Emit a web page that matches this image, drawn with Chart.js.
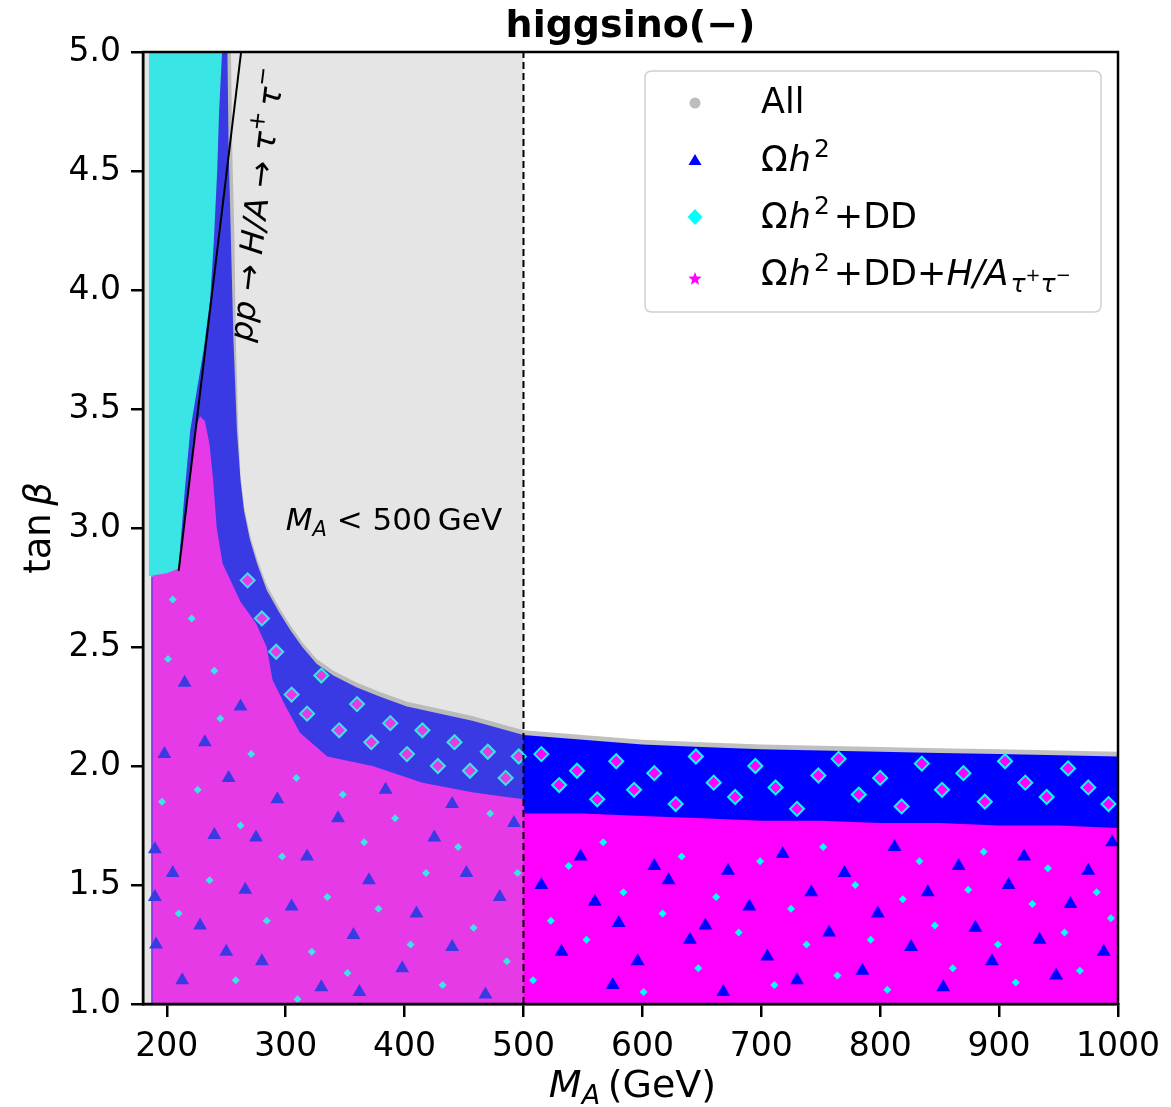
<!DOCTYPE html>
<html><head><meta charset="utf-8">
<script src="https://cdn.jsdelivr.net/npm/chart.js@4/dist/chart.umd.min.js"></script>
<style>html,body{margin:0;padding:0;background:#fff}#wrap{width:1171px;height:1107px;position:relative}</style>
</head><body><div id="wrap"><canvas id="c" width="1171" height="1107"></canvas></div>
<script>
// ---- data ----
const xRange = [180, 1000];
const yRange = [1.0, 5.0];
const xTickValues = [200, 300, 400, 500, 600, 700, 800, 900, 1000];
const yTickValues = [1.0, 1.5, 2.0, 2.5, 3.0, 3.5, 4.0, 4.5, 5.0];

// outer envelope of all scan points ("All")
const allEnvelope = [[187,1.0],[1000,1.0],[1000,2.06],[950,2.065],[900,2.07],[850,2.075],[800,2.08],[750,2.085],[700,2.09],[650,2.10],[600,2.11],[550,2.13],[500,2.15],[457,2.21],[430,2.24],[402,2.27],[380,2.31],[360,2.35],[340,2.40],[326,2.45],[314,2.52],[304,2.59],[294,2.67],[284,2.76],[276,2.87],[270,2.97],[265,3.09],[262,3.22],[260,3.43],[258,3.8],[257,4.2],[255,4.6],[254,5.0],[187,5.0]];
// Omega h^2 region
const omegaRegion = [[187,1.0],[1000,1.0],[1000,2.04],[950,2.045],[900,2.05],[850,2.055],[800,2.06],[750,2.065],[700,2.07],[650,2.08],[600,2.09],[550,2.11],[500,2.13],[457,2.19],[430,2.22],[402,2.25],[380,2.29],[360,2.33],[340,2.38],[326,2.43],[314,2.50],[304,2.57],[294,2.65],[284,2.74],[276,2.85],[270,2.95],[265,3.07],[262,3.20],[259,3.41],[256,3.8],[254,4.2],[252,4.6],[251,5.0],[187,5.0]];
// Omega h^2 + DD region
const ddRegion = [[185,5.0],[246.5,5.0],[244,4.75],[242.4,4.5],[239.5,4.2],[236.5,3.96],[231,3.75],[226,3.6],[219.7,3.41],[215,3.15],[211,2.9],[209.6,2.82],[200,2.80],[190,2.79],[185,2.80]];
// Omega h^2 + DD + H/A -> tau tau region
const tauRegion = [[188,1.0],[1000,1.0],[1000,1.74],[950,1.75],[900,1.75],[850,1.76],[800,1.76],[750,1.77],[700,1.77],[650,1.78],[600,1.79],[550,1.80],[501,1.80],[500,1.86],[470,1.88],[457,1.89],[415,1.93],[373,2.0],[335,2.04],[312,2.14],[300,2.25],[289,2.36],[284,2.50],[275,2.60],[262,2.69],[247,2.85],[242,3.0],[239,3.2],[236,3.35],[232,3.45],[228,3.47],[224,3.42],[219,3.2],[214,3.0],[210,2.83],[200,2.81],[188,2.80]];

// visible Omega h^2 points inside the tau region
const omegaSpots = [[515,1.50],[532,1.22],[548,1.62],[560,1.43],[575,1.08],[580,1.34],[596,1.18],[610,1.58],[622,1.52],[640,1.27],[653,1.33],[668,1.05],[672,1.56],[690,1.41],[705,1.20],[718,1.63],[730,1.10],[742,1.47],[757,1.30],[770,1.55],[785,1.14],[798,1.38],[812,1.66],[826,1.24],[840,1.47],[853,1.07],[866,1.58],[880,1.32],[894,1.18],[908,1.50],[921,1.62],[934,1.27],[948,1.12],[960,1.42],[975,1.56],[988,1.22],[995,1.68],
  [190,1.65],[190,1.45],[191,1.25],[205,1.55],[213,1.10],[228,1.33],[240,1.71],[252,1.95],[266,1.48],[280,1.18],[293,1.86],[305,1.41],[318,1.62],[330,1.07],[344,1.78],[357,1.29],[370,1.52],[384,1.90],[398,1.15],[410,1.38],[425,1.70],[440,1.24],[452,1.55],[468,1.04],[480,1.45],[492,1.76],[215,2.35],[232,2.10],[262,2.25],[198,2.05],[250,1.22],[275,1.70],[362,1.05],[440,1.84]];
// visible Omega h^2 + DD points inside the tau region
const ddSpots = [[508,1.10],[523,1.35],[538,1.58],[553,1.27],[567,1.68],[584,1.47],[601,1.05],[617,1.38],[633,1.62],[647,1.15],[662,1.45],[681,1.30],[699,1.60],[711,1.08],[725,1.40],[738,1.25],[752,1.66],[764,1.12],[779,1.50],[792,1.27],[806,1.06],[819,1.44],[833,1.60],[846,1.33],[861,1.15],[874,1.48],[887,1.64],[899,1.25],[914,1.09],[928,1.42],[941,1.57],[955,1.30],[968,1.14],[982,1.47],[994,1.36],
  [196,1.85],[201,2.45],[210,1.38],[221,2.62],[226,1.90],[236,1.52],[245,2.20],[258,1.10],[262,1.75],[271,2.05],[284,1.35],[297,1.62],[309,1.95],[322,1.22],[335,1.45],[348,1.88],[352,1.13],[366,1.68],[378,1.40],[392,1.78],[405,1.25],[418,1.55],[432,1.08],[445,1.66],[458,1.32],[472,1.80],[486,1.18],[495,1.55],[205,2.70],[240,2.40],[310,1.02]];
// visible tau-allowed points inside the Omega h^2 band
const tauSpots = [[515,2.05],[530,1.92],[545,1.98],[562,1.86],[578,2.02],[593,1.90],[610,1.97],[628,1.84],[645,2.04],[660,1.93],[678,1.87],[695,2.00],[712,1.91],[730,1.82],[748,1.96],[765,2.03],[782,1.88],[800,1.95],[818,1.83],[835,2.01],[852,1.90],[870,1.97],[888,1.85],[905,2.02],[922,1.93],[940,1.87],[958,1.99],[975,1.91],[992,1.84],
  [305,2.30],[318,2.22],[330,2.38],[345,2.15],[360,2.26],[372,2.10],[388,2.18],[402,2.05],[415,2.15],[428,2.00],[442,2.10],[455,1.98],[470,2.06],[485,1.95],[496,2.04],[280,2.62],[292,2.48],[268,2.78]];

const tauLimitLine = [[210,2.82],[262.5,5.0]];
const massCutLine = [[500,1.0],[500,5.0]];
const shadedSpan = [180, 500];
const cutLabelPos = [300, 2.99];
const limitLabelPos = [271, 3.78];

const toXY = a => a.map(p => ({x: p[0], y: p[1]}));
const FONT = '"DejaVu Sans", sans-serif';

function poly(label, data, color, order) {
  return {label, data: toXY(data), showLine: true, fill: 'shape', backgroundColor: color,
          borderWidth: 0, borderColor: color, pointRadius: 0, tension: 0, order};
}

function drawRuns(ctx, runs, x, y, align) {
  let w = 0;
  runs.forEach(r => { ctx.font = r.f; w += ctx.measureText(r.t).width + (r.g || 0); });
  let cx = align === 'center' ? x - w / 2 : x;
  ctx.textAlign = 'left'; ctx.textBaseline = 'alphabetic';
  runs.forEach(r => { ctx.font = r.f; ctx.fillText(r.t, cx, y + (r.dy || 0)); cx += ctx.measureText(r.t).width + (r.g || 0); });
}

const decor = {
  id: 'decor',
  beforeDatasetDraw(chart, args) {
    if (chart.data.datasets[args.index].label !== 'limit') return;
    const {ctx, chartArea: ca, scales: {x}} = chart;
    const x0 = Math.max(x.getPixelForValue(shadedSpan[0]), ca.left), x1 = x.getPixelForValue(shadedSpan[1]);
    ctx.save();
    ctx.fillStyle = 'rgba(176,176,176,0.33)';
    ctx.fillRect(x0, ca.top, x1 - x0, ca.bottom - ca.top);
    ctx.restore();
  },
  afterDatasetsDraw(chart) {
    const {ctx, chartArea: ca, scales: {x, y}} = chart;
    ctx.save();
    ctx.fillStyle = '#000';
    // "M_A < 500 GeV"
    const px = x.getPixelForValue(cutLabelPos[0]), py = y.getPixelForValue(cutLabelPos[1]);
    drawRuns(ctx, [
      {t: 'M', f: 'italic 31px ' + FONT},
      {t: 'A', f: 'italic 21px ' + FONT, dy: 6},
      {t: ' < 500\u2009GeV', f: '31px ' + FONT}
    ], px, py, 'left');
    // rotated limit label
    const lx = x.getPixelForValue(limitLabelPos[0]), ly = y.getPixelForValue(limitLabelPos[1]);
    const p0 = {x: x.getPixelForValue(tauLimitLine[0][0]), y: y.getPixelForValue(tauLimitLine[0][1])};
    const p1 = {x: x.getPixelForValue(tauLimitLine[1][0]), y: y.getPixelForValue(tauLimitLine[1][1])};
    const ang = Math.atan2(p1.y - p0.y, p1.x - p0.x);
    ctx.save();
    ctx.translate(lx, ly); ctx.rotate(ang);
    drawRuns(ctx, [
      {t: 'pp', f: 'italic 32px ' + FONT},
      {t: ' \u2192 ', f: '32px ' + FONT},
      {t: 'H/A', f: 'italic 32px ' + FONT},
      {t: ' \u2192 ', f: '32px ' + FONT},
      {t: '\u03c4', f: 'italic 32px ' + FONT},
      {t: '+', f: '23px ' + FONT, dy: -13},
      {t: '\u2009\u03c4', f: 'italic 32px ' + FONT},
      {t: '\u2212', f: '23px ' + FONT, dy: -13}
    ], 0, 0, 'left');
    ctx.restore();

    // frame
    ctx.lineWidth = 2.5; ctx.strokeStyle = '#000';
    ctx.strokeRect(ca.left, ca.top, ca.right - ca.left, ca.bottom - ca.top);

    // axis titles
    drawRuns(ctx, [
      {t: 'M', f: 'italic 38px ' + FONT},
      {t: 'A', f: 'italic 27px ' + FONT, dy: 7},
      {t: '\u2009(GeV)', f: '38px ' + FONT}
    ], (ca.left + ca.right) / 2 + 2, 1097, 'center');
    ctx.save();
    ctx.translate(50, (ca.top + ca.bottom) / 2);
    ctx.rotate(-Math.PI / 2);
    drawRuns(ctx, [
      {t: 'tan\u2009', f: '37px ' + FONT},
      {t: '\u03b2', f: 'italic 37px ' + FONT}
    ], 0, 0, 'center');
    ctx.restore();

    // legend
    const L = ca.right - 17 - 456, T = ca.top + 19, W = 456, H = 241, R = 7;
    ctx.beginPath();
    ctx.moveTo(L + R, T); ctx.lineTo(L + W - R, T); ctx.quadraticCurveTo(L + W, T, L + W, T + R);
    ctx.lineTo(L + W, T + H - R); ctx.quadraticCurveTo(L + W, T + H, L + W - R, T + H);
    ctx.lineTo(L + R, T + H); ctx.quadraticCurveTo(L, T + H, L, T + H - R);
    ctx.lineTo(L, T + R); ctx.quadraticCurveTo(L, T, L + R, T); ctx.closePath();
    ctx.fillStyle = 'rgba(255,255,255,0.85)'; ctx.fill();
    ctx.strokeStyle = '#d0d0d0'; ctx.lineWidth = 1.5; ctx.stroke();
    const mx = L + 50, tx = L + 116;
    // markers
    ctx.fillStyle = '#bdbdbd'; ctx.beginPath(); ctx.arc(mx, T + 32, 5.5, 0, Math.PI * 2); ctx.fill();
    ctx.fillStyle = '#0000ff'; ctx.beginPath(); ctx.moveTo(mx, T + 83); ctx.lineTo(mx + 6.5, T + 94); ctx.lineTo(mx - 6.5, T + 94); ctx.closePath(); ctx.fill();
    ctx.fillStyle = '#00ffff'; ctx.beginPath(); ctx.moveTo(mx, T + 138); ctx.lineTo(mx + 7.5, T + 146); ctx.lineTo(mx, T + 154); ctx.lineTo(mx - 7.5, T + 146); ctx.closePath(); ctx.fill();
    ctx.fillStyle = '#ff00ff'; ctx.beginPath();
    for (let i = 0; i < 10; i++) {
      const r = i % 2 === 0 ? 7 : 3, a = -Math.PI / 2 + i * Math.PI / 5;
      const sx = mx + r * Math.cos(a), sy = T + 208 + r * Math.sin(a);
      i === 0 ? ctx.moveTo(sx, sy) : ctx.lineTo(sx, sy);
    }
    ctx.closePath(); ctx.fill();
    // texts
    ctx.fillStyle = '#000';
    const F = '35px ' + FONT, FI = 'italic 35px ' + FONT, FS = '25px ' + FONT, FSI = 'italic 25px ' + FONT, FSS = '18px ' + FONT;
    const omegaH2 = () => [{t: '\u03a9', f: F, g: 1}, {t: 'h', f: FI, g: 3}, {t: '2', f: FS, dy: -14, g: 4}];
    drawRuns(ctx, [{t: 'All', f: F}], tx, T + 42, 'left');
    drawRuns(ctx, omegaH2(), tx, T + 100, 'left');
    drawRuns(ctx, omegaH2().concat([{t: '+DD', f: F}]), tx, T + 157, 'left');
    drawRuns(ctx, omegaH2().concat([{t: '+DD+', f: F}, {t: 'H/A', f: FI, g: 2},
                   {t: '\u03c4', f: FSI, dy: 7}, {t: '+', f: FSS, dy: -4}, {t: '\u03c4', f: FSI, dy: 7}, {t: '\u2212', f: FSS, dy: -4}]), tx, T + 214, 'left');
    ctx.restore();
  }
};

new Chart(document.getElementById('c'), {
  type: 'scatter',
  data: {
    datasets: [
      poly('All', allEnvelope, '#c0c0c0', 20),
      poly('\u03a9h\u00b2', omegaRegion, '#0000ff', 19),
      poly('\u03a9h\u00b2+DD', ddRegion, '#00ffff', 18),
      poly('\u03a9h\u00b2+DD+H/A\u03c4\u207a\u03c4\u207b', tauRegion, '#ff00ff', 17),
      {label: '\u03a9h\u00b2 points', data: toXY(omegaSpots), pointStyle: 'triangle', pointRadius: 8,
       backgroundColor: '#0000ff', borderWidth: 0, order: 16},
      {label: '\u03a9h\u00b2+DD points', data: toXY(ddSpots), pointStyle: 'rectRot', pointRadius: 4,
       backgroundColor: '#00ffff', borderWidth: 0, order: 15.5},
      {label: '\u03a9h\u00b2+DD+H/A points', data: toXY(tauSpots), pointStyle: 'rectRot', pointRadius: 7,
       backgroundColor: '#ff00ff', borderColor: '#00ffff', borderWidth: 2, order: 15},
      {label: 'limit', data: toXY(tauLimitLine), showLine: true, borderColor: '#000', borderWidth: 2,
       pointRadius: 0, order: 2},
      {label: 'cut', data: toXY(massCutLine), showLine: true, borderColor: '#000', borderWidth: 2,
       borderDash: [7, 4], pointRadius: 0, order: 1}
    ]
  },
  options: {
    responsive: false, animation: false, devicePixelRatio: 1,
    layout: {padding: {left: 0, right: 51, top: 0, bottom: 0}},
    plugins: {
      legend: {display: false}, tooltip: {enabled: false},
      title: {display: true, text: 'higgsino(\u2212)', fullSize: false, color: '#000',
              font: {family: FONT, size: 38, weight: 'bold', lineHeight: 1.2}, padding: {top: 4, bottom: 2.4}}
    },
    scales: {
      x: {type: 'linear', min: xRange[0], max: xRange[1],
          afterBuildTicks: a => { a.ticks = xTickValues.map(v => ({value: v})); },
          afterFit: s => { s.height = 103; },
          ticks: {color: '#000', font: {family: FONT, size: 33}, padding: 11, maxRotation: 0, autoSkip: false,
                  callback: v => String(v)},
          grid: {display: true, drawOnChartArea: false, drawTicks: true, tickLength: 13, color: '#000', lineWidth: 2.5},
          border: {display: true, color: '#000', width: 2.5}},
      y: {type: 'linear', min: yRange[0], max: yRange[1],
          afterBuildTicks: a => { a.ticks = yTickValues.map(v => ({value: v})); },
          afterFit: s => { s.width = 143; },
          ticks: {color: '#000', font: {family: FONT, size: 33}, padding: 10, autoSkip: false,
                  callback: v => Number(v).toFixed(1)},
          grid: {display: true, drawOnChartArea: false, drawTicks: true, tickLength: 12, color: '#000', lineWidth: 2.5},
          border: {display: true, color: '#000', width: 2.5}}
    }
  },
  plugins: [decor]
});
</script></body></html>
